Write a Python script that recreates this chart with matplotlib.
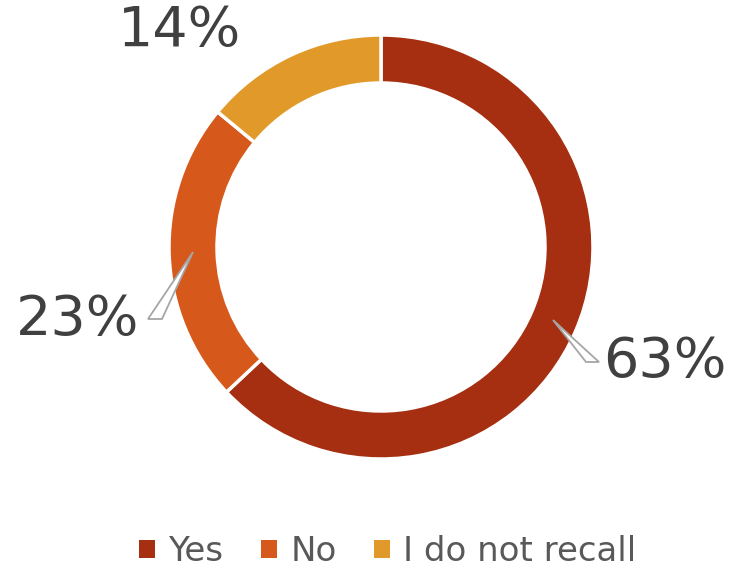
import matplotlib.pyplot as plt
from matplotlib.patches import Polygon

labels = ['Yes', 'No', 'I do not recall']
shares = [63, 23, 14]
colors = ['#A52F10', '#D6581A', '#E19A29']

# label placement (pixel coords, y measured from top)
pct_pos = [(665, 362), (78, 320), (180, 31)]
# callout wedges: tip inside the ring, base next to the label
callouts = [
    [(553, 320), (586, 362), (599, 362)],
    [(193, 252), (148, 319), (162, 319)],
]

W, H = 736, 570
fig = plt.figure(figsize=(W/100., H/100.), dpi=100)
ax = fig.add_axes([0, 0, 1, 1])

wedges, _ = ax.pie(shares, colors=colors, startangle=90, counterclock=False,
                   center=(381, H - 247), radius=212, frame=True,
                   wedgeprops=dict(width=48, edgecolor='white', linewidth=2.5))
ax.set_xlim(0, W)
ax.set_ylim(0, H)
ax.set_aspect('auto')
ax.axis('off')

for pts in callouts:
    ax.add_patch(Polygon([(x, H - y) for x, y in pts], closed=True,
                         facecolor='white', edgecolor='#A6A6A6', lw=1.3, zorder=5))

for v, (x, y) in zip(shares, pct_pos):
    ax.text(x, H - y, '%d%%' % v, fontsize=40, color='#404040',
            ha='center', va='center', zorder=6)

leg = ax.legend(wedges, labels, loc='lower center', bbox_to_anchor=(0.527, -0.05),
                ncol=3, frameon=False, fontsize=24.5, handlelength=0.46, handleheight=0.46,
                handletextpad=0.4, columnspacing=1.1)
for t in leg.get_texts():
    t.set_color('#595959')
for h in leg.legend_handles:
    h.set_edgecolor('none')

fig.savefig('out.png', dpi=100)
